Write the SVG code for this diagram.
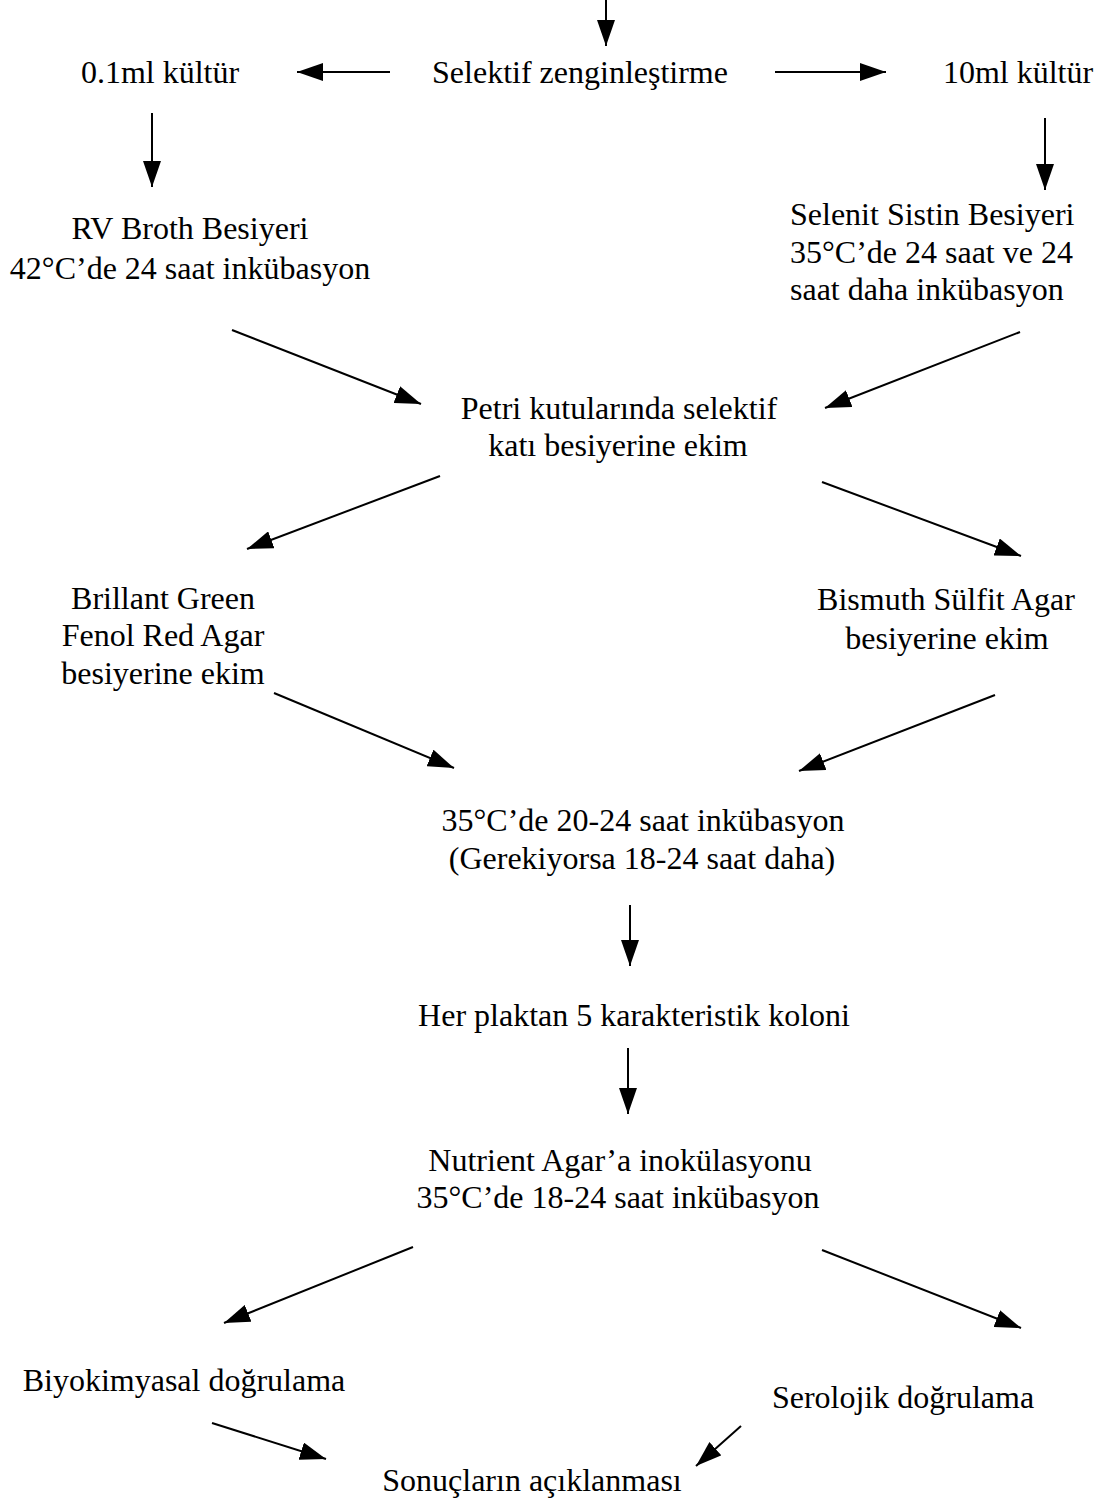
<svg xmlns="http://www.w3.org/2000/svg" width="1111" height="1512" viewBox="0 0 1111 1512">
<style>
text{font-family:"Liberation Serif","Times New Roman",serif;font-size:32px;fill:#000;text-anchor:middle}
.l{text-anchor:start}
.c{stroke:#000;stroke-width:2;fill:none;marker-end:url(#ah)}
</style>
<defs>
<marker id="ah" markerUnits="userSpaceOnUse" markerWidth="28" markerHeight="18" refX="26" refY="9" orient="auto">
<path d="M0,0 L26,9 L0,18 Z" fill="#000"/>
</marker>
</defs>
<rect width="1111" height="1512" fill="#fff"/>
<g id="connectors">
<line class="c" x1="606" y1="0" x2="606" y2="46"/>
<line class="c" x1="390" y1="72" x2="297" y2="72"/>
<line class="c" x1="775" y1="72" x2="886" y2="72"/>
<line class="c" x1="152" y1="113" x2="152" y2="187"/>
<line class="c" x1="1045" y1="118" x2="1045" y2="190"/>
<line class="c" x1="232" y1="330" x2="421" y2="404"/>
<line class="c" x1="1020" y1="332" x2="825" y2="408"/>
<line class="c" x1="440" y1="476" x2="247" y2="549"/>
<line class="c" x1="822" y1="482" x2="1021" y2="556"/>
<line class="c" x1="274" y1="693" x2="454" y2="768"/>
<line class="c" x1="995" y1="695" x2="799" y2="771"/>
<line class="c" x1="630" y1="905" x2="630" y2="966"/>
<line class="c" x1="628" y1="1048" x2="628" y2="1114"/>
<line class="c" x1="413" y1="1247" x2="224" y2="1323"/>
<line class="c" x1="822" y1="1250" x2="1021" y2="1328"/>
<line class="c" x1="212" y1="1423" x2="326" y2="1459"/>
<line class="c" x1="741" y1="1426" x2="696" y2="1466"/>
</g>
<g id="n-selektif"><text x="580" y="83">Selektif zenginleştirme</text></g>
<g id="n-01ml"><text x="160" y="83">0.1ml kültür</text></g>
<g id="n-10ml"><text x="1018" y="83">10ml kültür</text></g>
<g id="n-rv"><text x="190" y="239">RV Broth Besiyeri</text><text x="190" y="279">42°C’de 24 saat inkübasyon</text></g>
<g id="n-selenit"><text class="l" x="790" y="225">Selenit Sistin Besiyeri</text><text class="l" x="790" y="263">35°C’de 24 saat ve 24</text><text class="l" x="790" y="300">saat daha inkübasyon</text></g>
<g id="n-petri"><text x="619" y="419">Petri kutularında selektif</text><text x="618" y="456">katı besiyerine ekim</text></g>
<g id="n-brillant"><text x="163" y="609">Brillant Green</text><text x="163" y="646">Fenol Red Agar</text><text x="163" y="684">besiyerine ekim</text></g>
<g id="n-bismuth"><text x="946" y="610">Bismuth Sülfit Agar</text><text x="947" y="649">besiyerine ekim</text></g>
<g id="n-inkub1"><text x="643" y="831">35°C’de 20-24 saat inkübasyon</text><text x="642" y="869">(Gerekiyorsa 18-24 saat daha)</text></g>
<g id="n-her"><text x="634" y="1026">Her plaktan 5 karakteristik koloni</text></g>
<g id="n-nutrient"><text x="620" y="1171">Nutrient Agar’a inokülasyonu</text><text x="618" y="1208">35°C’de 18-24 saat inkübasyon</text></g>
<g id="n-biyo"><text x="184" y="1391">Biyokimyasal doğrulama</text></g>
<g id="n-sero"><text x="903" y="1408">Serolojik doğrulama</text></g>
<g id="n-sonuc"><text x="532" y="1491">Sonuçların açıklanması</text></g>
</svg>
